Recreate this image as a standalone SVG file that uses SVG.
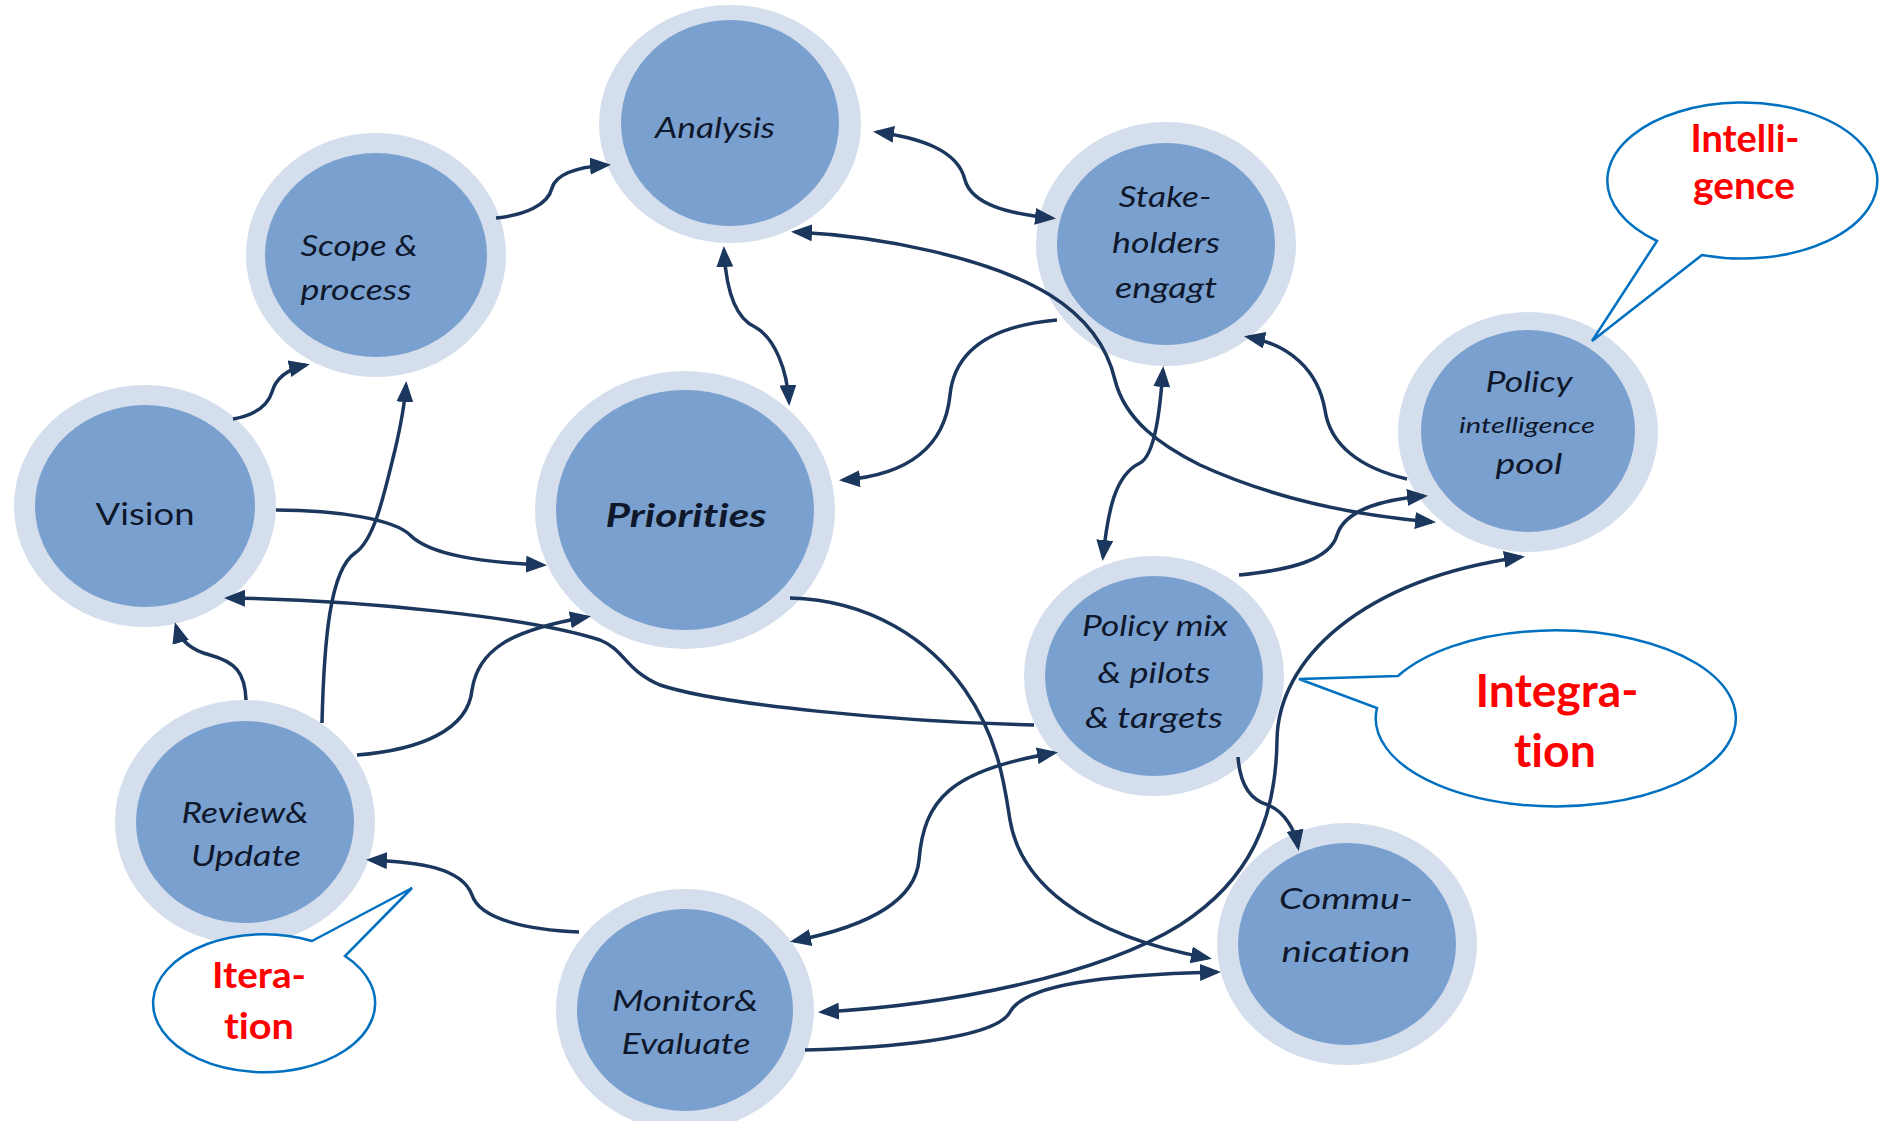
<svg xmlns="http://www.w3.org/2000/svg" width="1885" height="1121" viewBox="0 0 1885 1121">
  <style>
    .ring { fill: #D4DEEC; }
    .core { fill: #7AA0CF; }
    text { font-variant-ligatures: none; }
    .lbl { font-family: Lato, "Open Sans", "Liberation Sans", sans-serif; font-style: italic; font-size: 29px; fill: #0F172B; text-anchor: middle; }
    .lbl.up { font-style: normal; font-size: 31px; }
    .lbl.key { font-weight: bold; font-size: 32px; }
    .lbl.small { font-size: 22px; }
    .conn path { fill: none; stroke: #1B375E; stroke-width: 3.5; }
    .call path { fill: #FFFFFF; stroke: #0070C0; stroke-width: 2.5; stroke-linejoin: miter; }
    .ctext { font-family: Lato, "Open Sans", "Liberation Sans", sans-serif; font-weight: bold; fill: #FF0000; text-anchor: middle; }
  </style>
  <defs>
    <marker id="arrow" viewBox="0 0 21 17" refX="17" refY="8.5" markerWidth="21" markerHeight="17" markerUnits="userSpaceOnUse" orient="auto-start-reverse">
      <path d="M0,0 L21,8.5 L0,17 Z" fill="#1B375E"/>
    </marker>
  </defs>

  <rect width="1885" height="1121" fill="#FFFFFF"/>

  <!-- process nodes: light ring around a steel-blue disc -->
  <g id="analysis">
    <ellipse class="ring" cx="730" cy="124" rx="131" ry="119"/>
    <ellipse class="core" cx="730" cy="123" rx="109" ry="103"/>
    <text class="lbl" x="715" y="138" textLength="120" lengthAdjust="spacingAndGlyphs">Analysis</text>
  </g>
  <g id="scope">
    <ellipse class="ring" cx="376" cy="255" rx="130" ry="122"/>
    <ellipse class="core" cx="376" cy="255" rx="111" ry="102"/>
    <text class="lbl" x="359" y="256" textLength="117" lengthAdjust="spacingAndGlyphs">Scope &amp;</text>
    <text class="lbl" x="356" y="300" textLength="111" lengthAdjust="spacingAndGlyphs">process</text>
  </g>
  <g id="vision">
    <ellipse class="ring" cx="145" cy="506" rx="131" ry="121"/>
    <ellipse class="core" cx="145" cy="506" rx="110" ry="101"/>
    <text class="lbl up" x="145" y="525" textLength="99" lengthAdjust="spacingAndGlyphs">Vision</text>
  </g>
  <g id="priorities">
    <ellipse class="ring" cx="685" cy="510" rx="150" ry="139"/>
    <ellipse class="core" cx="685" cy="510" rx="129" ry="120"/>
    <text class="lbl key" x="686" y="527" textLength="161" lengthAdjust="spacingAndGlyphs">Priorities</text>
  </g>
  <g id="stakeholders">
    <ellipse class="ring" cx="1166" cy="244" rx="130" ry="122"/>
    <ellipse class="core" cx="1166" cy="244" rx="109" ry="101"/>
    <text class="lbl" x="1165" y="207" textLength="93" lengthAdjust="spacingAndGlyphs">Stake-</text>
    <text class="lbl" x="1166" y="253" textLength="108" lengthAdjust="spacingAndGlyphs">holders</text>
    <text class="lbl" x="1166" y="298" textLength="102" lengthAdjust="spacingAndGlyphs">engagt</text>
  </g>
  <g id="intelligence-pool">
    <ellipse class="ring" cx="1528" cy="432" rx="130" ry="120"/>
    <ellipse class="core" cx="1528" cy="431" rx="107" ry="101"/>
    <text class="lbl" x="1529" y="392" textLength="87" lengthAdjust="spacingAndGlyphs">Policy</text>
    <text class="lbl small" x="1527" y="433" textLength="136" lengthAdjust="spacingAndGlyphs">intelligence</text>
    <text class="lbl" x="1529" y="474" textLength="67" lengthAdjust="spacingAndGlyphs">pool</text>
  </g>
  <g id="policy-mix">
    <ellipse class="ring" cx="1154" cy="676" rx="130" ry="120"/>
    <ellipse class="core" cx="1154" cy="676" rx="109" ry="100"/>
    <text class="lbl" x="1155" y="636" textLength="146" lengthAdjust="spacingAndGlyphs">Policy mix</text>
    <text class="lbl" x="1154" y="683" textLength="113" lengthAdjust="spacingAndGlyphs">&amp; pilots</text>
    <text class="lbl" x="1154" y="728" textLength="138" lengthAdjust="spacingAndGlyphs">&amp; targets</text>
  </g>
  <g id="communication">
    <ellipse class="ring" cx="1347" cy="944" rx="130" ry="121"/>
    <ellipse class="core" cx="1347" cy="944" rx="109" ry="101"/>
    <text class="lbl" x="1346" y="909" textLength="134" lengthAdjust="spacingAndGlyphs">Commu-</text>
    <text class="lbl" x="1346" y="962" textLength="129" lengthAdjust="spacingAndGlyphs">nication</text>
  </g>
  <g id="review">
    <ellipse class="ring" cx="245" cy="822" rx="130" ry="122"/>
    <ellipse class="core" cx="245" cy="822" rx="109" ry="101"/>
    <text class="lbl" x="245" y="823" textLength="127" lengthAdjust="spacingAndGlyphs">Review&amp;</text>
    <text class="lbl" x="246" y="866" textLength="110" lengthAdjust="spacingAndGlyphs">Update</text>
  </g>
  <g id="monitor">
    <ellipse class="ring" cx="685" cy="1010" rx="129" ry="121"/>
    <ellipse class="core" cx="685" cy="1010" rx="108" ry="101"/>
    <text class="lbl" x="685" y="1011" textLength="146" lengthAdjust="spacingAndGlyphs">Monitor&amp;</text>
    <text class="lbl" x="686" y="1054" textLength="129" lengthAdjust="spacingAndGlyphs">Evaluate</text>
  </g>

  <!-- connectors -->
  <g id="connectors" class="conn">
    <path id="scope-analysis" d="M496,218 C525,215 548,205 552,188 C556,174 578,167 607,165" marker-end="url(#arrow)"/>
    <path id="vision-scope" d="M233,419 C255,415 268,405 272,392 C276,378 288,369 306,365" marker-end="url(#arrow)"/>
    <path id="analysis-stakeholders" d="M877,132 C920,138 958,150 965,180 C972,205 1010,214 1052,218" marker-start="url(#arrow)" marker-end="url(#arrow)"/>
    <path id="analysis-priorities" d="M724,250 C726,290 735,318 755,327 C775,338 787,370 789,402" marker-start="url(#arrow)" marker-end="url(#arrow)"/>
    <path id="stakeholders-priorities" d="M1057,320 C1000,325 955,345 950,395 C945,445 910,475 843,480" marker-end="url(#arrow)"/>
    <path id="analysis-pool" d="M795,232 C880,236 990,258 1050,295 C1090,320 1108,350 1115,380 C1125,420 1160,445 1200,465 C1270,497 1350,515 1432,522" marker-start="url(#arrow)" marker-end="url(#arrow)"/>
    <path id="stakeholders-policymix" d="M1163,370 C1160,410 1155,455 1140,463 C1115,475 1108,510 1103,557" marker-start="url(#arrow)" marker-end="url(#arrow)"/>
    <path id="pool-stakeholders" d="M1407,479 C1360,468 1330,445 1325,410 C1318,370 1290,345 1248,337" marker-end="url(#arrow)"/>
    <path id="policymix-pool" d="M1239,575 C1290,570 1330,560 1337,535 C1345,510 1380,500 1424,496" marker-end="url(#arrow)"/>
    <path id="vision-priorities" d="M276,510 C340,510 395,520 410,535 C430,555 480,562 543,565" marker-end="url(#arrow)"/>
    <path id="policymix-vision" d="M1034,725 C900,722 720,705 660,685 C625,670 625,650 600,640 C530,617 360,600 228,598" marker-end="url(#arrow)"/>
    <path id="review-vision" d="M246,700 C245,672 235,662 210,655 C190,650 180,640 176,626" marker-end="url(#arrow)"/>
    <path id="review-scope" d="M322,723 C324,640 330,570 355,553 C375,540 385,490 395,450 C402,420 405,400 406,385" marker-end="url(#arrow)"/>
    <path id="review-priorities" d="M357,755 C420,750 468,730 472,690 C478,650 510,630 587,617" marker-end="url(#arrow)"/>
    <path id="priorities-communication" d="M790,598 C870,600 930,640 965,690 C1000,740 1005,790 1010,820 C1020,880 1080,935 1208,958" marker-end="url(#arrow)"/>
    <path id="monitor-review" d="M579,932 C530,930 480,920 472,895 C462,868 420,862 370,860" marker-end="url(#arrow)"/>
    <path id="monitor-policymix" d="M794,941 C860,928 915,905 919,860 C924,800 950,770 1054,753" marker-start="url(#arrow)" marker-end="url(#arrow)"/>
    <path id="policymix-communication" d="M1238,757 C1240,785 1250,800 1268,805 C1285,812 1295,830 1298,847" marker-end="url(#arrow)"/>
    <path id="monitor-pool" d="M822,1012 C950,1005 1100,975 1180,925 C1250,880 1276,820 1277,740 C1278,660 1360,580 1521,557" marker-start="url(#arrow)" marker-end="url(#arrow)"/>
    <path id="monitor-communication" d="M805,1050 C880,1048 995,1040 1010,1012 C1025,985 1100,975 1217,972" marker-end="url(#arrow)"/>
  </g>

  <!-- speech-bubble callouts -->
  <g id="callout-intelligence" class="call">
    <path d="M1657,241 L1592,341 L1702,255 A135,78 0 1 0 1657,241 Z"/>
    <text class="ctext" x="1745" y="152" font-size="38" textLength="109" lengthAdjust="spacingAndGlyphs">Intelli-</text>
    <text class="ctext" x="1744" y="199" font-size="38" textLength="102" lengthAdjust="spacingAndGlyphs">gence</text>
  </g>
  <g id="callout-integration" class="call">
    <path d="M1398,676 L1299,679 L1377,708 A180,88 0 1 0 1398,676 Z"/>
    <text class="ctext" x="1557" y="707" font-size="45" textLength="163" lengthAdjust="spacingAndGlyphs">Integra-</text>
    <text class="ctext" x="1555" y="767" font-size="45" textLength="82" lengthAdjust="spacingAndGlyphs">tion</text>
  </g>
  <g id="callout-iteration" class="call">
    <path d="M312,941 L412,888 L345,956 A111,69 0 1 1 312,941 Z"/>
    <text class="ctext" x="259" y="988" font-size="36" textLength="94" lengthAdjust="spacingAndGlyphs">Itera-</text>
    <text class="ctext" x="259" y="1039" font-size="36" textLength="70" lengthAdjust="spacingAndGlyphs">tion</text>
  </g>
</svg>
